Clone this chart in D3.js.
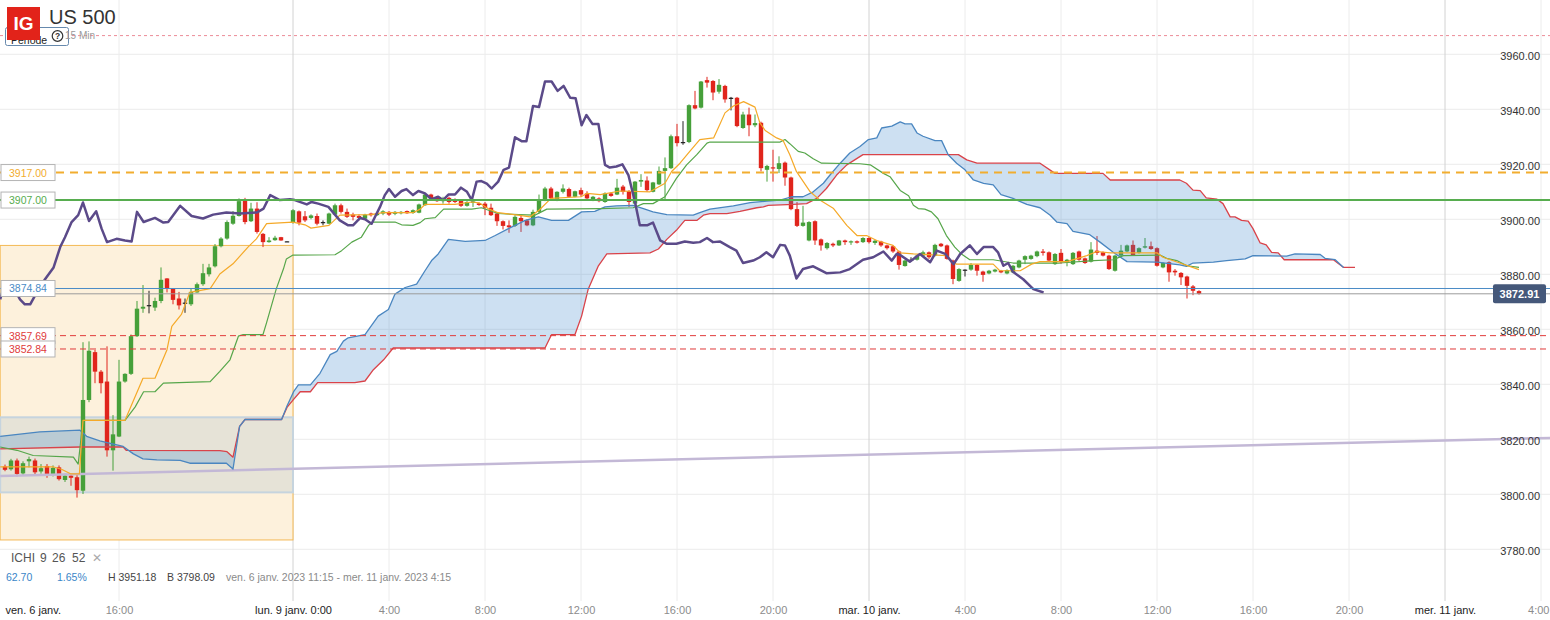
<!DOCTYPE html>
<html>
<head>
<meta charset="utf-8">
<script src="https://cdn.jsdelivr.net/npm/d3@7"></script>
<style>
  body { margin: 0; background: #fff; }
  svg { display: block; font-family: "Liberation Sans", Arial, sans-serif; }
</style>
</head>
<body>
<svg id="chart" width="1550" height="620"></svg>
<script>
// 15 min bars, index 0 = lun. 9 janv. 0:00
var firstBar = -48;

var opens = [
  3810.1, 3809.1, 3812.3, 3807.6, 3812.0, 3812.3, 3808.3, 3810.3, 3807.4, 3809.8,
  3805.2, 3806.8, 3806.2, 3801.3, 3834.3, 3851.7, 3844.6, 3841.0, 3816.0, 3821.0,
  3841.0, 3843.8, 3857.5, 3867.5, 3868.7, 3867.9, 3870.3, 3878.5, 3874.8, 3871.2,
  3869.7, 3869.1, 3873.4, 3876.4, 3880.0, 3882.9, 3890.2, 3893.0, 3898.4, 3901.2,
  3907.3, 3899.3, 3903.9, 3894.7, 3891.7, 3892.4, 3893.5, 3892.0, 3898.8, 3902.9,
  3901.1, 3900.5, 3901.2, 3899.0, 3898.4, 3901.7, 3905.1, 3902.7, 3901.7, 3901.2,
  3900.2, 3902.1, 3901.5, 3902.1, 3902.7, 3902.0, 3902.2, 3903.0, 3902.3, 3902.4,
  3905.1, 3909.0, 3907.8, 3906.6, 3907.8, 3907.3, 3907.0, 3904.9, 3906.0, 3905.8,
  3905.7, 3904.2, 3902.1, 3899.3, 3897.8, 3897.6, 3900.5, 3899.6, 3897.8, 3902.7,
  3907.0, 3911.2, 3907.3, 3910.0, 3911.0, 3908.2, 3910.6, 3909.4, 3906.9, 3907.6,
  3906.3, 3909.4, 3909.0, 3911.9, 3910.2, 3905.7, 3913.7, 3914.1, 3910.0, 3912.7,
  3917.6, 3918.6, 3930.2, 3928.1, 3928.1, 3941.5, 3940.6, 3950.6, 3950.3, 3946.4,
  3948.5, 3944.2, 3944.2, 3933.2, 3938.1, 3934.2, 3935.1, 3918.0, 3918.9, 3918.3,
  3920.6, 3915.2, 3903.7, 3897.6, 3892.3, 3899.3, 3892.7, 3889.5, 3891.1, 3890.5,
  3892.3, 3891.7, 3892.0, 3891.7, 3893.2, 3891.4, 3891.9, 3890.5, 3890.2, 3888.3,
  3883.0, 3885.3, 3885.3, 3886.8, 3888.0, 3886.8, 3891.1, 3890.5, 3885.0, 3877.6,
  3881.7, 3881.7, 3883.4, 3881.0, 3880.3, 3881.0, 3881.3, 3880.3, 3880.7, 3882.5,
  3885.3, 3885.6, 3886.6, 3888.3, 3888.0, 3883.7, 3887.8, 3884.6, 3883.7, 3888.3,
  3885.8, 3884.6, 3888.6, 3888.0, 3886.8, 3881.3, 3886.8, 3888.3, 3890.7, 3887.8,
  3889.7, 3890.2, 3889.5, 3882.5, 3884.4, 3881.3, 3880.5, 3879.2, 3875.6, 3873.9];

var highs = [
  3810.8, 3812.9, 3813.0, 3812.0, 3813.7, 3813.0, 3811.0, 3811.0, 3810.5, 3810.5,
  3807.5, 3807.5, 3807.4, 3855.3, 3855.6, 3852.5, 3845.2, 3853.8, 3828.8, 3848.9,
  3844.0, 3858.1, 3870.3, 3876.1, 3874.0, 3871.5, 3882.5, 3878.6, 3875.0, 3873.6,
  3871.2, 3874.8, 3877.0, 3883.8, 3883.8, 3891.0, 3893.5, 3899.6, 3903.0, 3907.6,
  3907.8, 3906.0, 3906.2, 3895.0, 3893.5, 3894.0, 3893.6, 3892.1, 3903.7, 3903.2,
  3903.0, 3901.8, 3902.1, 3899.6, 3902.4, 3905.7, 3905.7, 3903.9, 3902.4, 3901.8,
  3902.0, 3902.4, 3902.6, 3903.3, 3903.0, 3903.0, 3903.0, 3903.2, 3903.6, 3905.7,
  3909.3, 3909.3, 3908.2, 3908.2, 3908.2, 3907.6, 3907.3, 3906.6, 3907.0, 3906.1,
  3906.3, 3905.7, 3902.4, 3899.6, 3899.6, 3901.5, 3901.5, 3900.0, 3903.5, 3909.0,
  3911.8, 3911.8, 3910.2, 3912.7, 3911.5, 3910.4, 3911.5, 3910.2, 3908.5, 3908.0,
  3909.8, 3909.8, 3914.7, 3912.5, 3910.6, 3913.9, 3916.4, 3915.6, 3913.6, 3919.2,
  3922.5, 3930.8, 3934.7, 3935.7, 3941.8, 3946.7, 3950.3, 3951.8, 3950.6, 3951.0,
  3948.9, 3944.5, 3944.5, 3939.1, 3940.6, 3938.1, 3935.5, 3919.8, 3925.3, 3922.9,
  3921.0, 3915.5, 3906.3, 3904.9, 3899.3, 3899.6, 3893.0, 3891.7, 3891.5, 3892.5,
  3892.6, 3892.3, 3892.3, 3893.5, 3893.5, 3892.5, 3892.2, 3890.8, 3890.5, 3888.6,
  3885.3, 3886.2, 3887.1, 3888.6, 3888.3, 3891.1, 3891.4, 3890.8, 3885.3, 3882.2,
  3881.8, 3884.1, 3883.7, 3881.3, 3881.6, 3882.0, 3881.6, 3881.8, 3883.4, 3885.3,
  3886.9, 3887.1, 3888.6, 3889.2, 3888.3, 3887.7, 3889.2, 3885.6, 3888.1, 3888.6,
  3886.1, 3891.7, 3893.9, 3888.3, 3887.1, 3887.1, 3890.7, 3890.8, 3892.3, 3889.8,
  3893.2, 3891.9, 3889.8, 3884.4, 3884.7, 3881.9, 3880.8, 3879.5, 3876.1, 3874.2];

var lows = [
  3808.4, 3808.6, 3806.5, 3807.0, 3809.8, 3807.1, 3807.5, 3806.0, 3806.5, 3805.0,
  3804.5, 3803.1, 3798.8, 3800.1, 3833.5, 3840.4, 3836.7, 3813.7, 3808.6, 3820.8,
  3840.6, 3843.4, 3857.2, 3866.0, 3865.8, 3866.7, 3869.5, 3873.4, 3869.1, 3867.2,
  3866.0, 3868.5, 3873.3, 3875.8, 3879.2, 3882.5, 3889.8, 3892.6, 3898.0, 3901.0,
  3898.2, 3899.0, 3894.8, 3889.9, 3891.5, 3892.2, 3892.2, 3891.9, 3898.4, 3897.8,
  3899.0, 3900.0, 3897.8, 3897.8, 3898.2, 3901.5, 3902.1, 3900.5, 3899.6, 3899.6,
  3899.8, 3901.0, 3901.2, 3901.5, 3901.2, 3901.5, 3901.8, 3902.0, 3902.0, 3902.2,
  3904.9, 3907.3, 3906.3, 3905.7, 3905.7, 3905.9, 3904.5, 3904.6, 3904.5, 3904.9,
  3901.5, 3901.2, 3897.6, 3896.3, 3895.1, 3897.2, 3895.4, 3897.5, 3897.5, 3902.1,
  3906.6, 3907.3, 3906.6, 3909.4, 3907.8, 3908.0, 3908.2, 3907.3, 3906.6, 3906.2,
  3906.0, 3908.2, 3908.8, 3909.0, 3904.5, 3905.4, 3911.8, 3910.0, 3909.8, 3912.5,
  3907.0, 3918.3, 3926.5, 3927.1, 3927.7, 3940.0, 3940.3, 3947.9, 3943.3, 3945.7,
  3942.4, 3939.6, 3933.5, 3932.9, 3930.2, 3933.5, 3917.4, 3913.7, 3913.7, 3916.8,
  3912.2, 3903.3, 3897.2, 3897.3, 3892.0, 3890.7, 3888.6, 3889.0, 3889.9, 3890.3,
  3890.7, 3890.7, 3891.2, 3891.4, 3891.2, 3890.7, 3890.0, 3889.0, 3887.8, 3881.7,
  3882.8, 3884.6, 3885.0, 3886.5, 3885.6, 3886.5, 3889.9, 3885.3, 3876.4, 3877.3,
  3879.2, 3881.3, 3879.5, 3877.3, 3880.0, 3880.7, 3880.4, 3880.0, 3880.4, 3882.2,
  3883.7, 3885.3, 3886.2, 3886.8, 3884.7, 3883.4, 3883.8, 3882.9, 3883.4, 3884.9,
  3883.8, 3884.3, 3887.0, 3886.5, 3881.6, 3881.0, 3886.5, 3888.0, 3886.8, 3887.5,
  3889.4, 3888.9, 3882.8, 3882.2, 3877.3, 3879.5, 3876.1, 3871.2, 3872.4, 3872.6];

var closes = [
  3808.9, 3812.3, 3807.4, 3811.3, 3812.8, 3808.0, 3809.5, 3807.4, 3809.6, 3805.5,
  3806.8, 3806.0, 3801.5, 3834.3, 3852.2, 3844.6, 3840.4, 3816.0, 3821.8, 3841.0,
  3843.8, 3857.5, 3867.5, 3868.2, 3868.8, 3870.3, 3878.0, 3874.8, 3870.7, 3868.7,
  3869.7, 3873.6, 3876.4, 3880.4, 3882.5, 3890.2, 3893.0, 3899.0, 3901.3, 3906.6,
  3899.0, 3903.9, 3895.4, 3891.7, 3892.3, 3893.3, 3892.3, 3892.0, 3903.3, 3898.8,
  3899.6, 3901.4, 3898.4, 3899.0, 3902.1, 3905.1, 3902.7, 3900.9, 3900.9, 3900.5,
  3901.7, 3901.5, 3902.1, 3902.9, 3901.7, 3902.7, 3902.7, 3902.2, 3903.3, 3905.4,
  3909.0, 3907.6, 3906.6, 3907.3, 3906.3, 3906.3, 3904.9, 3906.3, 3906.5, 3905.2,
  3904.2, 3901.5, 3899.3, 3897.6, 3897.1, 3900.9, 3899.3, 3897.8, 3902.7, 3907.0,
  3911.2, 3907.6, 3910.0, 3911.2, 3908.2, 3910.2, 3909.0, 3907.6, 3908.2, 3906.6,
  3909.4, 3908.5, 3911.5, 3910.0, 3906.3, 3913.7, 3914.3, 3910.6, 3913.4, 3917.6,
  3918.6, 3930.2, 3927.7, 3928.1, 3941.5, 3940.3, 3950.1, 3949.7, 3946.1, 3948.9,
  3943.6, 3944.2, 3933.9, 3938.1, 3934.2, 3935.0, 3918.6, 3919.4, 3918.6, 3920.4,
  3915.2, 3903.7, 3897.6, 3898.8, 3899.0, 3892.3, 3890.5, 3891.4, 3890.5, 3892.3,
  3891.7, 3892.0, 3891.5, 3893.2, 3891.7, 3892.2, 3890.5, 3889.5, 3888.3, 3883.4,
  3885.0, 3885.3, 3886.8, 3888.0, 3886.2, 3890.7, 3890.2, 3885.6, 3878.3, 3881.9,
  3881.7, 3883.4, 3881.3, 3879.8, 3881.3, 3881.7, 3880.7, 3881.5, 3883.1, 3885.0,
  3886.6, 3886.8, 3888.3, 3887.8, 3885.0, 3887.4, 3884.4, 3885.3, 3887.8, 3885.3,
  3884.1, 3889.0, 3887.8, 3886.8, 3881.9, 3886.8, 3888.6, 3890.5, 3887.0, 3889.5,
  3890.2, 3889.2, 3883.1, 3884.1, 3880.7, 3880.7, 3878.9, 3875.8, 3874.0, 3872.91];

// ichimoku lines, [bar index, price]
var tenkan = [[-48.8,3810.0],[-40,3810.0],[-38.5,3809.0],[-37,3807.4],[-35.6,3807.4],[-35,3826.9],[-28,3826.9],
  [-25,3842.2],[-23,3842.2],[-21,3852.6],[-20.2,3861.1],[-18.6,3865.4],[-17.2,3873.4],[-13.8,3874.8],[-12.2,3880.1],
  [-10,3883.8],[-7.5,3889.9],[-6.1,3892.9],[-4.4,3898.4],[0,3899.0],[2,3898.0],[3,3896.8],[6,3897.8],[7.8,3901.5],
  [13,3901.7],[15,3902.4],[20,3902.4],[21.2,3903.7],[22,3905.4],[27,3905.4],[29.8,3906.3],[31,3906.0],[32.5,3903.9],
  [34.2,3902.4],[37.5,3901.5],[39.5,3900.9],[41,3903.3],[43,3907.6],[48,3908.2],[49,3909.4],[51.2,3909.0],[54.5,3910.3],
  [59.5,3910.0],[62,3913.1],[63.1,3917.4],[64.5,3920.4],[66.2,3924.9],[67.8,3929.0],[70.1,3929.6],[71,3933.8],[72,3938.7],
  [73.4,3941.2],[75.1,3942.8],[77,3940.8],[77.8,3935.1],[78.7,3932.3],[80.6,3929.6],[81.7,3928.6],[82.8,3923.5],
  [83.9,3917.4],[86.2,3910.0],[87.8,3907.0],[90.1,3903.9],[92.3,3897.8],[94,3894.1],[95.6,3894.1],[97.3,3892.3],
  [100,3890.5],[101.2,3887.8],[103.4,3887.4],[109,3886.8],[109.8,3884.4],[110.6,3883.7],[116.7,3883.7],[117.8,3881.3],
  [121.2,3881.3],[123.1,3883.7],[124.5,3884.6],[129,3884.6],[132.3,3886.8],[134,3888.3],[136.2,3887.8],[144,3887.8],
  [145,3886.2],[147.8,3884.1],[151,3881.7]];

var kijun = [[-48.8,3817.2],[-46,3816.0],[-43.3,3814.1],[-36.6,3813.5],[-35.8,3811.0],[-35,3826.9],[-28,3826.9],
  [-26.3,3831.8],[-24.9,3837.3],[-23,3837.3],[-21.6,3840.4],[-13.8,3841.0],[-12.2,3844.7],[-10.5,3848.9],[-9.1,3857.5],
  [-8.3,3858.1],[-5,3858.1],[-4.4,3862.4],[-2.8,3874.6],[-1.6,3881.9],[-1.1,3885.6],[0,3887.0],[7,3887.1],[8.1,3888.6],
  [9.8,3891.7],[11.4,3893.5],[12.6,3897.8],[13.4,3899.0],[17,3899.0],[18.1,3898.0],[20,3897.8],[21.2,3898.8],
  [22,3900.2],[23.7,3900.6],[25.1,3903.7],[29.8,3903.7],[31.4,3904.2],[32.6,3903.3],[34.2,3902.1],[37.6,3901.7],
  [40.3,3901.5],[41.4,3902.7],[42.3,3903.7],[51.2,3903.9],[56.7,3904.2],[58.4,3905.7],[60,3905.7],[62,3908.2],
  [63.9,3914.9],[65.6,3919.8],[67.3,3923.5],[69,3927.7],[69.5,3928.1],[81.2,3928.1],[82,3929.0],[82.8,3927.5],
  [84.2,3924.7],[85.3,3924.1],[86.7,3922.0],[88.1,3920.4],[94.5,3920.2],[96.2,3919.8],[98.4,3916.7],[99.5,3915.5],
  [101.2,3910.5],[102.6,3908.6],[103.4,3905.1],[104.2,3903.9],[105.3,3903.7],[106.4,3902.7],[107.5,3900.2],
  [108.9,3894.1],[110.3,3889.9],[111.4,3887.4],[112.8,3885.3],[116.7,3885.3],[120,3884.1],[127.8,3884.1],
  [133.4,3885.0],[136.7,3885.3],[138.4,3886.8],[144.5,3887.0],[145.6,3885.8],[147.3,3885.0],[149,3883.1],[151,3882.5]];

var senkouA = [[-48.8,3821.1],[-42.2,3822.7],[-35.5,3823.3],[-34.4,3821.1],[-32.2,3819.4],[-28.3,3817.4],
  [-26.6,3814.7],[-25,3812.9],[-22.7,3812.5],[-18.8,3812.3],[-17.2,3811.3],[-11.1,3811.3],[-10,3809.2],[-8.9,3824.7],
  [-8,3827.2],[-1.9,3827.2],[-1,3832.1],[0.1,3837.3],[0.9,3839.8],[2.9,3839.8],[4.5,3844.0],[6.2,3850.8],[7.3,3852.0],
  [8.4,3855.7],[9.2,3856.9],[12,3858.1],[12.8,3860.5],[14.2,3864.8],[15.9,3867.2],[17,3872.8],[18.7,3875.2],
  [20.6,3876.4],[22,3881.3],[23.1,3885.0],[24.2,3887.4],[25.9,3892.7],[28.7,3892.0],[32,3892.3],[33.7,3894.1],
  [35.9,3896.6],[38.7,3899.6],[40.9,3900.9],[43.1,3899.6],[45.9,3899.6],[48.1,3902.7],[50.3,3902.9],[52,3904.5],
  [53.9,3904.9],[56.7,3905.1],[58.4,3903.9],[60,3902.7],[62.3,3901.7],[66.7,3901.5],[67.8,3902.4],[69.5,3903.7],
  [73.4,3904.9],[76.2,3906.1],[79,3906.6],[81.2,3907.0],[83.1,3908.2],[85,3908.2],[86.7,3910.0],[88.4,3913.1],
  [89.5,3916.1],[91.2,3920.4],[92.8,3924.1],[94.5,3926.5],[95.9,3929.0],[97.3,3929.6],[98.1,3933.2],[99.8,3933.9],
  [101.2,3935.4],[102,3934.7],[103.1,3934.7],[104,3931.4],[105,3930.2],[107,3928.6],[108.1,3928.6],[109.2,3923.5],
  [110.6,3920.4],[112,3918.0],[113.4,3914.3],[115.1,3913.1],[116.7,3912.5],[118,3909.0],[120,3907.6],[122.3,3905.4],
  [124.5,3904.2],[126.2,3901.5],[127.3,3899.0],[129,3898.4],[130,3895.6],[132.8,3894.4],[134.5,3891.7],[136.7,3888.0],
  [139,3884.6],[144,3884.4],[147.8,3883.4],[148.9,3882.9],[150,3884.1],[153.4,3884.4],[155.6,3885.0],[158.7,3885.6],
  [160,3886.8],[165.6,3886.6],[167,3887.4],[171.2,3887.2],[172,3885.8],[173.7,3885.3],[175.1,3882.5]];

var senkouB = [[-48.8,3816.5],[-35.5,3817.2],[-28.3,3817.2],[-27.8,3816.0],[-12.2,3815.9],[-11,3815.5],[-10,3813.5],
  [-8.9,3824.7],[-8,3827.2],[-1.9,3827.2],[-1,3831.6],[0.1,3834.5],[1.2,3837.3],[2.9,3837.3],[4.1,3840.6],[10.3,3840.6],
  [12,3841.2],[13.4,3845.3],[15.1,3848.9],[16.7,3853.2],[42,3853.2],[43.1,3858.1],[47,3858.1],[48.1,3864.8],
  [49.2,3874.6],[50.9,3883.1],[52.3,3887.4],[59.5,3887.8],[60.9,3889.2],[62.3,3892.7],[63.9,3896.0],[65.3,3899.6],
  [67.3,3899.6],[68.4,3901.5],[69.5,3902.1],[72.3,3902.1],[74.5,3902.9],[77.3,3904.2],[78.4,3904.5],[79.2,3905.1],
  [83.4,3905.4],[85.6,3905.7],[87.3,3907.6],[88.9,3911.2],[90.6,3916.1],[92.3,3919.8],[95,3923.5],[110.9,3923.5],
  [112.3,3921.6],[114,3920.4],[124.5,3920.4],[127,3916.7],[135,3916.7],[136.2,3914.3],[147.8,3914.3],[148.9,3913.1],
  [150,3910.6],[151.2,3910.4],[152.2,3907.8],[154,3907.3],[155,3905.7],[156.2,3900.9],[157,3900.9],[158.1,3899.6],
  [159.2,3899.3],[160,3896.6],[161.2,3891.4],[162.2,3890.7],[163.1,3888.0],[164.2,3887.8],[165.2,3885.3],
  [173.4,3885.3],[175.1,3882.5],[177,3882.5]];

var chikou = [[-48.8,3870.9],[-48,3877.0],[-46.6,3875.2],[-45.5,3870.9],[-44.7,3869.1],[-43.8,3869.1],[-42.7,3873.4],
  [-41.3,3878.3],[-39.9,3882.5],[-38.8,3889.9],[-38,3893.5],[-36.9,3899.0],[-35.8,3901.5],[-35,3906.1],[-34,3899.4],
  [-32.8,3902.9],[-31.9,3896.6],[-31,3891.7],[-29.4,3892.9],[-28,3892.3],[-26.9,3891.9],[-26,3902.7],[-24.9,3899.0],
  [-23,3900.5],[-21.6,3898.8],[-20.8,3899.0],[-18.8,3904.9],[-16.9,3901.2],[-15,3900.3],[-13.3,3901.7],[-11.1,3902.5],
  [-8.8,3902.1],[-6,3902.5],[-4.9,3903.9],[-3.8,3908.8],[-2.2,3907.0],[-0.5,3907.3],[0.3,3907.0],[2.3,3905.4],
  [3.1,3906.3],[4.2,3905.7],[5.9,3904.5],[7.8,3899.6],[9.2,3897.8],[10,3897.8],[11.2,3900.5],[12,3900.0],[13.1,3898.4],
  [14.5,3904.5],[15.3,3908.8],[16,3911.0],[17,3908.2],[18.1,3910.3],[18.9,3911.0],[20,3908.8],[20.9,3910.3],
  [22,3909.4],[23.1,3907.3],[24.2,3908.2],[25,3907.0],[25.9,3909.0],[27,3909.0],[28,3911.5],[29,3910.0],[29.8,3907.0],
  [30.6,3913.7],[31.4,3913.9],[32.3,3913.0],[33.1,3911.2],[34.2,3913.7],[35.1,3918.0],[36,3918.8],[37,3929.8],
  [38.1,3928.4],[38.9,3928.4],[40,3941.2],[41,3940.8],[42,3950.1],[43.1,3950.1],[44.1,3946.7],[45.1,3948.5],
  [46.2,3944.2],[47.1,3944.0],[48.1,3934.2],[48.9,3937.9],[49.9,3934.7],[50.9,3934.7],[52,3919.8],[52.8,3918.8],
  [53.9,3919.2],[54.9,3920.0],[55.9,3916.1],[57,3906.3],[57.8,3897.8],[59,3897.8],[60,3898.8],[61.2,3892.3],
  [62.3,3891.1],[63.9,3891.1],[65.3,3891.9],[66.7,3891.5],[67.8,3891.7],[69,3893.2],[70,3891.7],[71.2,3891.9],
  [72.8,3889.9],[73.9,3888.6],[75,3884.1],[76.7,3885.0],[77.8,3886.2],[78.9,3888.0],[80,3886.2],[81.2,3890.7],
  [82,3890.5],[82.8,3886.8],[83.9,3878.5],[85,3881.9],[86.7,3882.9],[88.9,3880.4],[91.2,3880.7],[92.8,3881.9],
  [95,3885.3],[96.7,3886.2],[98.4,3888.3],[99.8,3885.0],[100.6,3887.4],[101.2,3887.0],[102.8,3884.6],[104.5,3887.4],
  [106.2,3884.4],[107.3,3888.6],[108.7,3887.4],[110.1,3883.7],[111.2,3887.4],[112.8,3890.5],[114,3887.4],
  [115.1,3889.9],[116.7,3889.9],[117.5,3888.0],[118.4,3883.1],[119.2,3884.1],[120,3880.9],[121.7,3878.2],
  [123.4,3874.6],[125.1,3873.4]];

// axes
var tickIdx = [-48, -29, 0, 16, 32, 48, 64, 80, 96, 112, 128, 144, 160, 176, 192, 208];
var tickLabels = ["ven. 6 janv.", "16:00", "lun. 9 janv. 0:00", "4:00", "8:00", "12:00", "16:00", "20:00",
  "mar. 10 janv.", "4:00", "8:00", "12:00", "16:00", "20:00", "mer. 11 janv.", "4:00"];
var dayTicks = [-48, 0, 96, 192];
var priceTicks = [3780, 3800, 3820, 3840, 3860, 3880, 3900, 3920, 3940, 3960];

// drawn levels and annotations
var levelValues = [3917.00, 3907.00, 3874.84, 3857.69, 3852.84];
var lastPrice = 3872.91;
var alertLevel = 3966.8;
var trendLine = [[-48.8, 3806.65], [209.5, 3820.5]];
var rangeBox = {from: -48.8, to: 0, top: 3890.5, bottom: 3783.4};
var zoneBox = {from: -48.8, to: 0, top: 3828.0, bottom: 3800.7};

var levelColors = ["#f2ad2f", "#57ad4f", "#4a8bc6", "#e03a3a", "#e03a3a"];
var levelDash = ["8,6", null, null, "6,4", "6,4"];
var levelWidth = [2, 2, 1, 1, 1];

var svg = d3.select("#chart");
var W = 1550, H = 620;

var x = d3.scaleLinear().domain([0, 96]).range([293, 869]);
var y = d3.scaleLinear().domain([3780, 3960]).range([549.3, 54.3]);

var line = d3.line().x(d => x(d[0])).y(d => y(d[1]));

// grid
svg.append("g").selectAll("line")
  .data(priceTicks)
 .enter().append("line")
  .attr("x1", 0).attr("x2", W)
  .attr("y1", d => y(d)).attr("y2", d => y(d))
  .attr("stroke", "#ececec").attr("stroke-width", 1);

svg.append("g").selectAll("line")
  .data(tickIdx.slice(1))
 .enter().append("line")
  .attr("x1", d => x(d)).attr("x2", d => x(d))
  .attr("y1", 0).attr("y2", 601)
  .attr("stroke", d => dayTicks.indexOf(d) >= 0 ? "#d2d2d2" : "#ececec")
  .attr("stroke-width", 1);

// friday boxes
svg.append("rect")
  .attr("x", x(rangeBox.from)).attr("y", y(rangeBox.top))
  .attr("width", x(rangeBox.to) - x(rangeBox.from))
  .attr("height", y(rangeBox.bottom) - y(rangeBox.top))
  .attr("fill", "#fdf1dc").attr("stroke", "#f4b955").attr("stroke-width", 1);

svg.append("rect")
  .attr("x", x(zoneBox.from)).attr("y", y(zoneBox.top))
  .attr("width", x(zoneBox.to) - x(zoneBox.from))
  .attr("height", y(zoneBox.bottom) - y(zoneBox.top))
  .attr("fill", "rgba(180,195,205,0.3)").attr("stroke", "#c6d4de").attr("stroke-width", 2);

// candles
var bars = d3.range(opens.length).map(function(k) {
  return {i: firstBar + k, o: opens[k], h: highs[k], l: lows[k], c: closes[k]};
});
function barColor(d) {
  if (Math.abs(d.c - d.o) < 0.15) return "#222";
  return d.c > d.o ? "#46a03a" : "#e0251c";
}
var gBars = svg.append("g");
gBars.selectAll(".wick")
  .data(bars)
 .enter().append("line")
  .attr("x1", d => x(d.i)).attr("x2", d => x(d.i))
  .attr("y1", d => y(d.h)).attr("y2", d => y(d.l))
  .attr("stroke", barColor).attr("stroke-width", 1);
gBars.selectAll(".body")
  .data(bars)
 .enter().append("rect")
  .attr("x", d => x(d.i) - 2.2)
  .attr("width", 4.4)
  .attr("y", d => y(Math.max(d.o, d.c)))
  .attr("height", d => Math.max(1.2, Math.abs(y(d.o) - y(d.c))))
  .attr("fill", barColor);

// cloud, drawn over the candles
var cloudPts = senkouA.concat(senkouB.slice().reverse());
svg.append("path")
  .attr("d", line(cloudPts) + "Z")
  .attr("fill", "rgba(60,135,205,0.26)");

svg.append("path").attr("d", line(trendLine))
  .attr("stroke", "#c3b8d6").attr("stroke-width", 2.5).attr("fill", "none");

function addLine(pts, color, w) {
  svg.append("path").attr("d", line(pts))
    .attr("fill", "none").attr("stroke", color)
    .attr("stroke-width", w).attr("stroke-linejoin", "round");
}
addLine(senkouB, "#d9434a", 1.3);
addLine(senkouA, "#4a86c0", 1.3);
addLine(kijun, "#56a64a", 1.2);
addLine(tenkan, "#f5a928", 1.2);
addLine(chikou, "#5b4a89", 2.5);

// horizontal levels
svg.append("line")
  .attr("x1", 0).attr("x2", W).attr("y1", y(alertLevel)).attr("y2", y(alertLevel))
  .attr("stroke", "#ec8c98").attr("stroke-dasharray", "3,3");
svg.append("line")
  .attr("x1", 0).attr("x2", W).attr("y1", y(lastPrice)).attr("y2", y(lastPrice))
  .attr("stroke", "#9c9c9c").attr("stroke-width", 1);
svg.append("g").selectAll("line")
  .data(levelValues)
 .enter().append("line")
  .attr("x1", 0).attr("x2", W)
  .attr("y1", d => y(d)).attr("y2", d => y(d))
  .attr("stroke", (d, k) => levelColors[k])
  .attr("stroke-width", (d, k) => levelWidth[k])
  .attr("stroke-dasharray", (d, k) => levelDash[k]);

// level labels on the left
var lab = svg.append("g").selectAll("g")
  .data(levelValues)
 .enter().append("g")
  .attr("transform", d => "translate(1," + (y(d) - 8) + ")");
lab.append("rect")
  .attr("width", 54).attr("height", 16)
  .attr("fill", "#fff").attr("stroke", "#b4b4b4");
lab.append("text")
  .attr("x", 8).attr("y", 12)
  .attr("font-size", 10.5)
  .attr("fill", (d, k) => levelColors[k])
  .text(d => d3.format(".2f")(d));

// y axis
var yAxis = svg.append("g")
  .attr("transform", "translate(1541,0)")
  .call(d3.axisLeft(y).tickValues(priceTicks).tickFormat(d3.format(".2f")).tickSize(0).tickPadding(1));
yAxis.select(".domain").remove();
yAxis.selectAll("text")
  .attr("font-size", 11).attr("fill", "#333").attr("font-family", "Liberation Sans, Arial, sans-serif")
  .attr("dy", "0.45em");

// last price tag
var tag = svg.append("g").attr("transform", "translate(1493," + (y(lastPrice) - 9.5) + ")");
tag.append("rect").attr("width", 53).attr("height", 19).attr("rx", 2).attr("fill", "#45587a");
tag.append("text").attr("x", 26.5).attr("y", 13.5).attr("text-anchor", "middle")
  .attr("font-size", 11).attr("font-weight", "bold").attr("fill", "#fff")
  .text(d3.format(".2f")(lastPrice));

// x axis
var lastTick = tickIdx[tickIdx.length - 1];
var xAxis = svg.append("g")
  .attr("transform", "translate(0,606)")
  .call(d3.axisBottom(x).tickValues(tickIdx).tickFormat((d, k) => tickLabels[k]).tickSize(0).tickPadding(0));
xAxis.select(".domain").remove();
xAxis.selectAll("text")
  .attr("font-size", 11).attr("font-family", "Liberation Sans, Arial, sans-serif")
  .attr("fill", d => dayTicks.indexOf(d) >= 0 ? "#222" : "#8c8c8c")
  .attr("text-anchor", d => d === tickIdx[0] ? "start" : (d === lastTick ? "end" : "middle"))
  .attr("dx", d => d === lastTick ? 8 : 0);

// indicator legend
var leg = svg.append("g").attr("font-size", 12).attr("fill", "#555");
leg.append("text").attr("x", 11).attr("y", 562).text("ICHI");
leg.append("text").attr("x", 40).attr("y", 562).text("9");
leg.append("text").attr("x", 52).attr("y", 562).text("26");
leg.append("text").attr("x", 72).attr("y", 562).text("52");
leg.append("text").attr("x", 92).attr("y", 562).attr("fill", "#aaa").text("\u2715");

var info = svg.append("g").attr("font-size", 10.5);
info.append("text").attr("x", 6).attr("y", 581).attr("fill", "#3a86c8").text("62.70");
info.append("text").attr("x", 57).attr("y", 581).attr("fill", "#3a86c8").text("1.65%");
info.append("text").attr("x", 108).attr("y", 581).attr("fill", "#444").text("H 3951.18");
info.append("text").attr("x", 167).attr("y", 581).attr("fill", "#444").text("B 3798.09");
info.append("text").attr("x", 226).attr("y", 581).attr("fill", "#8a8a8a")
  .text("ven. 6 janv. 2023 11:15 - mer. 11 janv. 2023 4:15");

// header
svg.append("rect").attr("x", 5.5).attr("y", 27.5).attr("width", 63).attr("height", 18).attr("rx", 2)
  .attr("fill", "#fff").attr("stroke", "#6689ad");
svg.append("text").attr("x", 11).attr("y", 44).attr("font-size", 10.5).attr("fill", "#222").text("Période");
svg.append("circle").attr("cx", 57.5).attr("cy", 36).attr("r", 5.3)
  .attr("fill", "#fff").attr("stroke", "#333").attr("stroke-width", 1.2);
svg.append("text").attr("x", 57.5).attr("y", 39.2).attr("text-anchor", "middle")
  .attr("font-size", 8.5).attr("font-weight", "bold").attr("fill", "#333").text("?");
svg.append("text").attr("x", 65).attr("y", 39).attr("font-size", 10).attr("fill", "#9a9a9a").text("15 Min");
svg.append("rect").attr("x", 7).attr("y", 7).attr("width", 33).attr("height", 33).attr("fill", "#e2231a");
svg.append("text").attr("x", 23.5).attr("y", 30).attr("text-anchor", "middle")
  .attr("font-size", 19).attr("font-weight", "bold").attr("fill", "#fff").text("IG");
svg.append("text").attr("x", 49).attr("y", 24).attr("font-size", 20).attr("fill", "#333").text("US 500");
</script>
</body>
</html>
